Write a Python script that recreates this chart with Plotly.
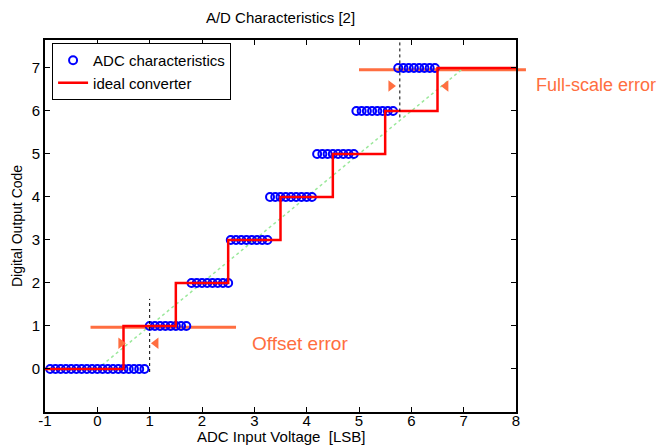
import plotly.graph_objects as go

# ---------------- data ----------------
code0_x = [-0.9, -0.8, -0.7, -0.6, -0.5, -0.4, -0.3, -0.2, -0.1, 0.0, 0.1, 0.2, 0.3, 0.4, 0.5, 0.6, 0.7, 0.8, 0.9]
code1_x = [1.0, 1.1, 1.2, 1.3, 1.4, 1.5, 1.6, 1.7]
code2_x = [1.8, 1.9, 2.0, 2.1, 2.2, 2.3, 2.4, 2.5]
code3_x = [2.55, 2.65, 2.75, 2.85, 2.95, 3.05, 3.15, 3.25]
code4_x = [3.3, 3.4, 3.5, 3.6, 3.7, 3.8, 3.9, 4.0, 4.1]
code5_x = [4.2, 4.3, 4.4, 4.5, 4.6, 4.7, 4.8, 4.9]
code6_x = [4.95, 5.05, 5.15, 5.25, 5.35, 5.45, 5.55, 5.65]
code7_x = [5.75, 5.85, 5.95, 6.05, 6.15, 6.25, 6.35, 6.45]
adc_segments = [code0_x, code1_x, code2_x, code3_x, code4_x, code5_x, code6_x, code7_x]

ideal_x = [-1, 0.5, 1.5, 2.5, 3.5, 4.5, 5.5, 6.5, 8]
ideal_code = [0, 1, 2, 3, 4, 5, 6, 7, 7]

diag_x = [0, 7]
diag_y = [0, 7]

x_ticks = [-1, 0, 1, 2, 3, 4, 5, 6, 7, 8]
y_ticks = [0, 1, 2, 3, 4, 5, 6, 7]
x_range = [-1, 8]
y_range = [-1, 7.65]

# annotation geometry (data units)
offset_line_x = [-0.13, 2.65]
offset_line_y = 0.97
offset_marker_x = [0.45, 1.12]
offset_marker_y = 0.6
offset_vline_x = [1.0, 1.0]
offset_vline_y = [-0.07, 1.63]
offset_text_pos = [2.92, 0.6]

fs_line_x = [5.0, 8.19]
fs_line_y = 6.96
fs_marker_x = [5.61, 6.66]
fs_marker_y = 6.58
fs_vline_x = [5.78, 5.78]
fs_vline_y = [5.85, 7.6]
fs_text_pos = [8.34, 6.6]

ORANGE = "#FF6E40"
FONT = "Liberation Sans, Arial, sans-serif"
FS = 15

adc_x = []
adc_y = []
for code, xs in enumerate(adc_segments):
    adc_x.extend(xs)
    adc_y.extend([code] * len(xs))

fig = go.Figure()

fig.add_trace(go.Scatter(x=diag_x, y=diag_y, mode="lines",
                         line=dict(color="#9BE89B", width=1.5, dash="dot"),
                         showlegend=False, hoverinfo="skip"))

fig.add_trace(go.Scatter(x=adc_x, y=adc_y, mode="markers", name="ADC characteristics",
                         marker=dict(symbol="circle-open", size=8, color="#0000FF",
                                     line=dict(width=2, color="#0000FF"))))

fig.add_trace(go.Scatter(x=ideal_x, y=ideal_code, mode="lines", name="ideal converter",
                         line=dict(color="#FF0000", width=2.5, shape="hv")))

# dotted reference lines
for vx, vy in [(offset_vline_x, offset_vline_y), (fs_vline_x, fs_vline_y)]:
    fig.add_trace(go.Scatter(x=vx, y=vy, mode="lines",
                             line=dict(color="black", width=1, dash="dot"),
                             showlegend=False, hoverinfo="skip"))

# arrow heads
for mx, my in [(offset_marker_x, offset_marker_y), (fs_marker_x, fs_marker_y)]:
    fig.add_trace(go.Scatter(x=mx, y=[my, my], mode="markers",
                             marker=dict(symbol=["triangle-right", "triangle-left"],
                                         size=10, color=ORANGE),
                             showlegend=False, hoverinfo="skip", cliponaxis=False))

span = x_range[1] - x_range[0]
def to_paper(v):
    return (v - x_range[0]) / span

fig.add_shape(type="line", xref="x", yref="y", layer="below",
              x0=offset_line_x[0], x1=offset_line_x[1], y0=offset_line_y, y1=offset_line_y,
              line=dict(color=ORANGE, width=3))
fig.add_shape(type="line", xref="paper", yref="y", layer="below",
              x0=to_paper(fs_line_x[0]), x1=to_paper(fs_line_x[1]), y0=fs_line_y, y1=fs_line_y,
              line=dict(color=ORANGE, width=3))

fig.add_annotation(x=offset_text_pos[0], y=offset_text_pos[1], text="Offset error",
                   showarrow=False, xanchor="left", yanchor="middle",
                   font=dict(family=FONT, size=19, color=ORANGE))
fig.add_annotation(xref="paper", yref="y", x=to_paper(fs_text_pos[0]), y=fs_text_pos[1],
                   text="Full-scale error",
                   showarrow=False, xanchor="left", yanchor="middle",
                   font=dict(family=FONT, size=18, color=ORANGE))

# x-axis title placed explicitly under the tick labels
fig.add_annotation(xref="paper", yref="paper", x=0.5, y=-24 / 372,
                   text="ADC Input Voltage  [LSB]", showarrow=False,
                   xanchor="center", yanchor="middle",
                   font=dict(family=FONT, size=FS, color="black"))

axis_common = dict(showline=True, linecolor="black", linewidth=2, mirror="ticks",
                   ticks="inside", ticklen=5, tickwidth=1, tickcolor="black",
                   showgrid=False, zeroline=False,
                   tickfont=dict(family=FONT, size=FS, color="black"))

fig.update_xaxes(range=x_range, tickmode="array", tickvals=x_ticks,
                 ticktext=[str(v) for v in x_ticks], ticklabelstandoff=-6,
                 **axis_common)
fig.update_yaxes(range=y_range, tickmode="array", tickvals=y_ticks,
                 ticktext=[str(v) for v in y_ticks],
                 title=dict(text="Digital Output Code", standoff=6,
                            font=dict(family=FONT, size=14, color="black")),
                 **axis_common)

fig.update_layout(
    width=661, height=446,
    margin=dict(l=45, r=145, t=40, b=34, autoexpand=False),
    paper_bgcolor="white", plot_bgcolor="white",
    title=dict(text="A/D Characteristics [2]", x=0.4244, xanchor="center",
               y=1 - 18 / 446, yanchor="middle",
               font=dict(family=FONT, size=FS, color="black")),
    legend=dict(x=0.015, y=0.992, xanchor="left", yanchor="top",
                bordercolor="black", borderwidth=1, bgcolor="white",
                font=dict(family=FONT, size=FS, color="black"),
                tracegroupgap=0, itemwidth=30),
    showlegend=True,
)

fig.write_html("out.html")
